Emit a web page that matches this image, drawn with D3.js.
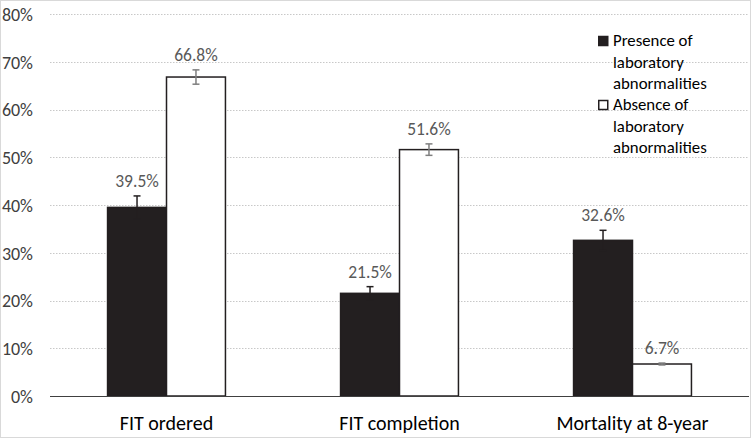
<!DOCTYPE html>
<html><head><meta charset="utf-8">
<script src="https://cdn.jsdelivr.net/npm/d3@7"></script>
<style>body{margin:0;background:#fff}svg{display:block}text{font-family:Carlito,Lato,"Liberation Sans",sans-serif}</style>
</head><body><svg id="c" width="751" height="438"></svg>
<script>
const categories = ["FIT ordered", "FIT completion", "Mortality at 8-year"];
const seriesNames = ["Presence of laboratory abnormalities", "Absence of laboratory abnormalities"];
const presence = [39.5, 21.5, 32.6];
const absence = [66.8, 51.6, 6.7];
const presenceErr = [2.4, 1.4, 2.1];
const absenceErr = [1.5, 1.2, 0.2];
const yTicks = [0, 10, 20, 30, 40, 50, 60, 70, 80];

const svg = d3.select("#c");
const W = 751, H = 438;
svg.append("rect").attr("x",0.5).attr("y",0.5).attr("width",W-1).attr("height",H-1).attr("fill","#fff").attr("stroke","#d9d9d9");

const x0 = 50, x1 = 749, yTop = 14, yBot = 396;
const y = d3.scaleLinear().domain([0, 80]).range([yBot, yTop]);
const xb = d3.scaleBand().domain(categories).range([x0, x1]).paddingInner(0.494).paddingOuter(0.247);
const xs = d3.scaleBand().domain([0,1]).range([0, xb.bandwidth()]);

// gridlines
svg.append("g").selectAll("line").data(yTicks.filter(d=>d>0)).join("line")
  .attr("x1", x0).attr("x2", x1).attr("y1", d=>Math.round(y(d))+0.5).attr("y2", d=>Math.round(y(d))+0.5)
  .attr("stroke", "#c8c8c8").attr("stroke-width",1).attr("stroke-dasharray","1.5,1.5");

// y axis labels
const ya = d3.axisLeft(y).tickValues(yTicks).tickFormat(d=>d+"%").tickSize(0).tickPadding(0);
const yg = svg.append("g").attr("transform", `translate(33,0)`).call(ya);
yg.select(".domain").remove();
yg.selectAll("text").attr("font-size", 18).attr("fill", "#404040").attr("dy","0.36em");

const groups = svg.append("g").selectAll("g").data(categories).join("g")
  .attr("transform", d=>`translate(${xb(d)},0)`);

const data = categories.map((c,i)=>[
  {s:0, v:presence[i], e:presenceErr[i]},
  {s:1, v:absence[i], e:absenceErr[i]}
]);

groups.each(function(c, i){
  const g = d3.select(this);
  data[i].forEach(d=>{
    const bx = xs(d.s), bw = xs.bandwidth();
    g.append("rect").attr("x", bx).attr("y", y(d.v)).attr("width", bw).attr("height", yBot - y(d.v))
      .attr("fill", d.s===0 ? "#231f20" : "#fff").attr("stroke", "#231f20").attr("stroke-width", 1.5);
    const cx = bx + bw/2;
    const ec = d.s===0 ? "#231f20" : "#7f7f7f";
    g.append("line").attr("x1", cx).attr("x2", cx).attr("y1", y(d.v+d.e)).attr("y2", y(d.v-d.e)).attr("stroke", ec).attr("stroke-width",1.5);
    [d.v+d.e, d.v-d.e].forEach(v=>{
      g.append("line").attr("x1", cx-3.5).attr("x2", cx+3.5).attr("y1", y(v)).attr("y2", y(v)).attr("stroke", ec).attr("stroke-width",1.5);
    });
    g.append("text").attr("x", cx).attr("y", y(d.v+d.e) - 9).attr("text-anchor","middle")
      .attr("font-size", 17.5).attr("fill", "#595959").text(d.v.toFixed(1)+"%");
  });
});

// baseline
svg.append("line").attr("x1", x0).attr("x2", x1).attr("y1", yBot+0.5).attr("y2", yBot+0.5).attr("stroke","#404040").attr("stroke-width",1.2);

// x axis labels
const xa = d3.axisBottom(xb).tickSize(0).tickPadding(0);
const xg = svg.append("g").attr("transform", `translate(0,${yBot})`).call(xa);
xg.select(".domain").remove();
xg.selectAll("text").attr("font-size", 20).attr("fill", "#000").attr("y", 34).attr("dy", null);

// legend
const leg = svg.append("g").attr("transform", "translate(598,0)");
const legItems = [
  {fill:"#231f20", lines:["Presence of","laboratory","abnormalities"], y:46},
  {fill:"#fff", lines:["Absence of","laboratory","abnormalities"], y:110}
];
legItems.forEach(it=>{
  leg.append("rect").attr("x", 0.75).attr("y", it.y-9.5).attr("width", 9).attr("height", 9)
    .attr("fill", it.fill).attr("stroke", "#231f20").attr("stroke-width", 1.5);
  it.lines.forEach((t,k)=>{
    leg.append("text").attr("x", 15).attr("y", it.y + k*21.5)
      .attr("font-size", 16.8).attr("fill", "#000").text(t);
  });
});
</script></body></html>
